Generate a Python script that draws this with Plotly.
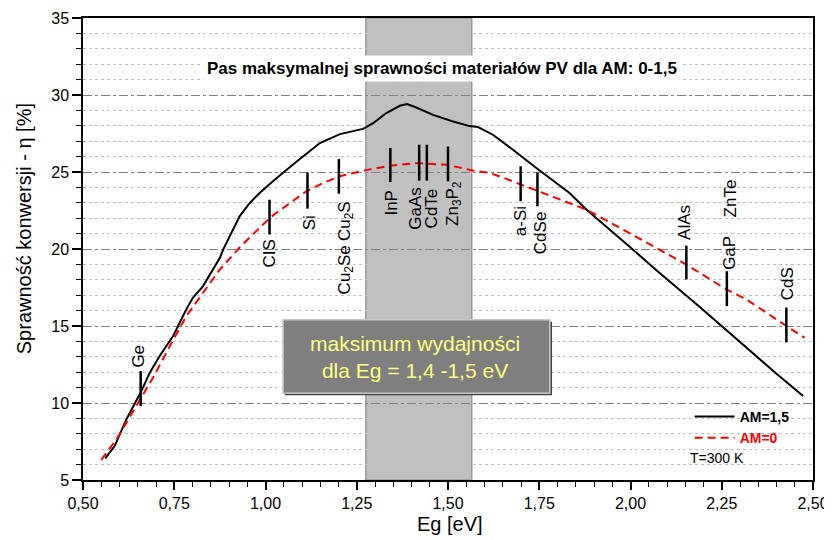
import plotly.graph_objects as go

# ---------------- data ----------------
eg_am15 = [0.561, 0.587, 0.619, 0.658, 0.683, 0.710, 0.747, 0.783, 0.801, 0.829, 0.875, 0.884,
           0.929, 0.957, 0.984, 1.025, 1.094, 1.149, 1.204, 1.267, 1.295, 1.331, 1.368, 1.388,
           1.413, 1.459, 1.514, 1.559, 1.582, 1.623, 1.678, 1.742, 1.833, 1.879, 2.000, 2.071,
           2.189, 2.322, 2.400, 2.473]
eta_am15 = [6.40, 7.22, 8.95, 10.68, 11.97, 13.05, 14.35, 16.08, 16.83, 17.59, 19.43, 19.96,
            22.12, 22.99, 23.64, 24.50, 25.85, 26.88, 27.46, 27.80, 28.17, 28.83, 29.30, 29.41,
            29.19, 28.71, 28.28, 27.98, 27.92, 27.42, 26.45, 25.26, 23.64, 22.56, 20.10, 18.62,
            16.25, 13.48, 11.90, 10.46]

eg_am0 = [0.550, 0.592, 0.646, 0.692, 0.738, 0.783, 0.829, 0.875, 0.929, 1.011, 1.030, 1.112,
          1.158, 1.203, 1.267, 1.340, 1.417, 1.496, 1.568, 1.614, 1.660, 1.705, 1.752, 1.879,
          2.000, 2.153, 2.263, 2.318, 2.427, 2.477]
eta_am0 = [6.31, 7.65, 9.81, 11.65, 13.70, 15.64, 17.16, 18.67, 20.10, 22.00, 22.35, 23.75,
           24.29, 24.72, 25.08, 25.41, 25.58, 25.47, 25.10, 24.94, 24.55, 24.15, 23.70, 22.56,
           21.00, 18.99, 17.37, 16.72, 15.00, 14.24]

# material markers (vertical bars)
mat_eg = [0.658, 1.011, 1.115, 1.201, 1.342, 1.421, 1.442, 1.500, 1.699, 1.745, 2.153, 2.264, 2.427]
mat_lo = [9.81, 20.94, 22.62, 23.59, 24.35, 24.44, 24.44, 24.39, 23.10, 22.77, 18.02, 16.29, 13.94]
mat_hi = [12.08, 23.20, 24.97, 25.84, 26.56, 26.77, 26.77, 26.66, 25.37, 24.97, 20.22, 18.56, 16.20]

# material labels
label_text = ["Ge", "CIS", "Si", "Cu<sub>2</sub>S", "Cu<sub>2</sub>Se", "InP", "GaAs", "CdTe",
              "Zn<sub>3</sub>P<sub>2</sub>", "a-Si", "CdSe", "AlAs", "GaP", "ZnTe", "CdS"]
label_x = [0.651, 1.011, 1.119, 1.219, 1.219, 1.346, 1.410, 1.454, 1.516, 1.699, 1.753,
           2.148, 2.269, 2.274, 2.429]
label_y = [13.02, 19.68, 21.73, 21.84, 18.64, 23.00, 22.63, 22.65, 22.98, 21.78, 21.05,
           21.73, 19.73, 23.25, 17.72]

band_eg = [1.275, 1.565]

x_tickvals = [0.50, 0.75, 1.00, 1.25, 1.50, 1.75, 2.00, 2.25, 2.50]
x_ticktext = ["0,50", "0,75", "1,00", "1,25", "1,50", "1,75", "2,00", "2,25", "2,50"]
y_tickvals = [5, 10, 15, 20, 25, 30, 35]
y_ticktext = ["5", "10", "15", "20", "25", "30", "35"]

FONT = "Liberation Sans, Arial, sans-serif"

fig = go.Figure()

fig.add_trace(go.Scatter(x=eg_am15, y=eta_am15, mode="lines", name="<b>AM=1,5</b>",
                         line=dict(color="black", width=2)))
fig.add_trace(go.Scatter(x=eg_am0, y=eta_am0, mode="lines",
                         name="<span style='color:red'><b>AM=0</b></span>",
                         line=dict(color="red", width=2, dash="8px,5px")))

# material bars
bx, by = [], []
for x, lo, hi in zip(mat_eg, mat_lo, mat_hi):
    bx += [x, x, None]
    by += [lo, hi, None]
fig.add_trace(go.Scatter(x=bx, y=by, mode="lines", showlegend=False,
                         line=dict(color="black", width=2.5), hoverinfo="skip"))

# band
fig.add_shape(type="rect", xref="x", yref="paper", x0=band_eg[0], x1=band_eg[1], y0=0, y1=1,
              fillcolor="#c0c0c0", line=dict(color="#999999", width=1.5), layer="below")

# labels
for t, x, y in zip(label_text, label_x, label_y):
    fig.add_annotation(x=x, y=y, xref="x", yref="y", text=t, textangle=-90, showarrow=False,
                       xanchor="center", yanchor="middle",
                       font=dict(family=FONT, size=17, color="black"))

# title box
fig.add_annotation(x=1.484, y=31.7, xref="x", yref="y",
                   text="<b>Pas maksymalnej sprawności materiałów PV dla AM: 0-1,5</b>",
                   showarrow=False, bgcolor="white", borderpad=3,
                   font=dict(family=FONT, size=17, color="black"))

# info box (3D look)
fig.add_shape(type="rect", xref="x", yref="y", x0=1.053, x1=1.785, y0=10.50, y1=15.27,
              fillcolor="#404040", line=dict(width=0), layer="above")
fig.add_shape(type="rect", xref="x", yref="y", x0=1.048, x1=1.779, y0=10.63, y1=15.40,
              fillcolor="#7f7f7f", line=dict(color="#c8c8c8", width=1.5), layer="above")
fig.add_annotation(x=1.410, y=13.0, xref="x", yref="y",
                   text="maksimum wydajności<br>dla Eg = 1,4 -1,5 eV", showarrow=False,
                   font=dict(family=FONT, size=21, color="#ffff80"))

# legend extra
fig.add_annotation(x=2.157, y=6.45, xref="x", yref="y", text="T=300 K", showarrow=False,
                   xanchor="left", yanchor="middle", font=dict(family=FONT, size=14, color="black"))

# axis titles
fig.add_annotation(x=1.505, y=-0.095, xref="x", yref="paper", text="Eg [eV]", showarrow=False,
                   xanchor="center", yanchor="middle", font=dict(family=FONT, size=20, color="black"))
fig.add_annotation(x=-0.081, y=21.34, xref="paper", yref="y", text="Sprawność konwersji - η [%]",
                   textangle=-90, showarrow=False, xanchor="center", yanchor="middle",
                   font=dict(family=FONT, size=20, color="black"))

# page body has an 8px margin -> figure is 8px smaller and margins compensate
fig.update_layout(
    width=824, height=532,
    margin=dict(l=75, r=19, t=10, b=60),
    paper_bgcolor="white", plot_bgcolor="white",
    font=dict(family=FONT, size=16, color="black"),
    showlegend=True,
    legend=dict(x=0.831, y=0.171, xanchor="left", yanchor="top", bgcolor="rgba(0,0,0,0)",
                itemwidth=40,
                font=dict(family=FONT, size=14, color="black"), tracegroupgap=0),
)
fig.update_xaxes(range=[0.5, 2.5], tickvals=x_tickvals, ticktext=x_ticktext, automargin=False,
                 showgrid=False, zeroline=False, showline=True, linecolor="black", linewidth=1.5,
                 mirror=True, ticks="outside", ticklen=8, tickwidth=1.5, tickcolor="black",
                 tickfont=dict(family=FONT, size=16),
                 minor=dict(dtick=0.05, tick0=0.5, ticks="outside", ticklen=5, tickwidth=1,
                            tickcolor="black", showgrid=False))
fig.update_yaxes(range=[5, 35], tickvals=y_tickvals, ticktext=y_ticktext, automargin=False,
                 showgrid=True, gridcolor="#808080", griddash="dashdot", gridwidth=1,
                 zeroline=False, showline=True, linecolor="black", linewidth=1.5,
                 mirror=True, ticks="outside", ticklen=9, tickwidth=1.5, tickcolor="black",
                 tickfont=dict(family=FONT, size=16),
                 minor=dict(dtick=1, tick0=5, ticks="outside", ticklen=5, tickwidth=1,
                            tickcolor="black", showgrid=True, gridcolor="#c0c0c0",
                            griddash="dot", gridwidth=1))

fig.write_html("out.html")
